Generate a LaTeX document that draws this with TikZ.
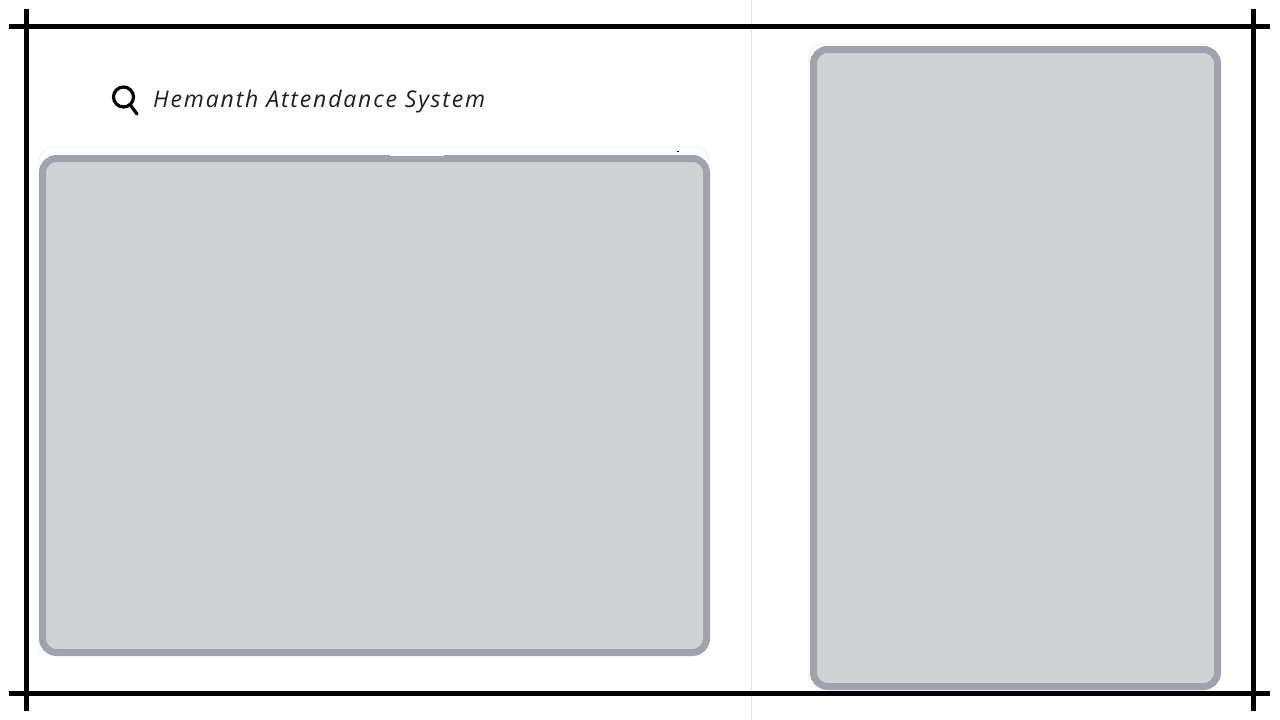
\documentclass[tikz,border=0pt]{standalone}
\usepackage{fontspec}
\newfontfamily\handfont[ItalicFont=* Italic,LetterSpace=8]{Open Sans}
\definecolor{panelfill}{HTML}{D1D2D4}
\definecolor{paneledge}{HTML}{A0A2AD}
\definecolor{divider}{HTML}{E2E2E6}
\definecolor{faintline}{HTML}{EDEDF0}
\tikzset{
  x=1pt,y=-1pt,
  frameline/.style={draw=black,line width=5pt},
  panel/.style={draw=paneledge,fill=panelfill,line width=7pt,rounded corners=14pt,inner sep=0pt,outer sep=0pt,anchor=north west},
  faint/.style={draw=faintline,line width=0.8pt},
  titletext/.style={font=\handfont\itshape\fontsize{23}{27}\selectfont,text=black!88,inner sep=0pt,anchor=base west}
}
\begin{document}
\begin{tikzpicture}
\useasboundingbox (0,0) rectangle (1280,720);
\fill[white] (0,0) rectangle (1280,720);
% page divider
\draw[divider,line width=1pt] (751.5,0) -- (751.5,720);
% faint scan remains round the panels
\draw[faint,rounded corners=14pt] (39,655) -- (39,147) -- (709,147) -- (709,160);
\draw[faint,rounded corners=12pt] (809,680) -- (809,44) -- (1205,44);
% panels
\node[panel,minimum width=664pt,minimum height=494pt] (leftpanel) at (42.5,158.5) {};
\node[panel,minimum width=404pt,minimum height=637pt] (rightpanel) at (813.5,49.5) {};
\fill[white] (390,154.5) rectangle (444,156.2);
\fill[black] (676.5,150.5) rectangle (678.5,152);
% frame
\draw[frameline] (9,26) -- (1270,26);
\draw[frameline] (9,693) -- (1270,693);
\draw[frameline] (26,9) -- (26,711);
\draw[frameline] (1253,9) -- (1253,711);
% search icon
\node[draw=black,line width=3.2pt,circle,minimum size=20pt,inner sep=0pt] (lens) at (123.5,97) {};
\coordinate (handle) at (137,114);
\draw[black,line width=3.2pt,line cap=round] (lens.-50) -- (handle);
\node[titletext] (title) at (153,107) {Hemanth Attendance System};
\end{tikzpicture}
\end{document}
